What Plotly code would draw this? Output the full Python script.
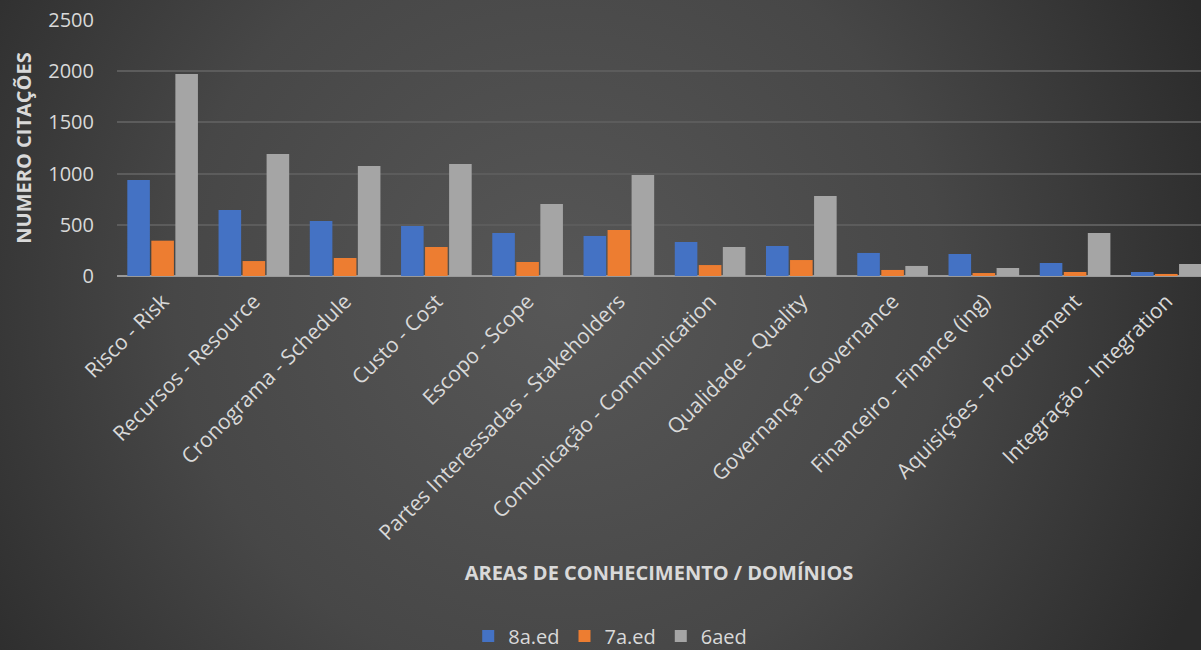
import base64
import plotly.graph_objects as go

categories = [
    "Risco - Risk", "Recursos - Resource", "Cronograma - Schedule", "Custo - Cost",
    "Escopo - Scope", "Partes Interessadas - Stakeholders", "Comunicação - Communication",
    "Qualidade - Quality", "Governança - Governance", "Financeiro - Finance (ing)",
    "Aquisições - Procurement", "Integração - Integration",
]
ed8 = [937, 645, 537, 488, 420, 391, 332, 293, 225, 215, 127, 39]
ed7 = [345, 146, 176, 283, 137, 449, 107, 156, 59, 29, 39, 20]
ed6 = [1973, 1191, 1074, 1094, 703, 986, 283, 781, 98, 78, 420, 117]

series_names = ["8a.ed", "7a.ed", "6aed"]
series_colors = ["#4472C4", "#ED7D31", "#A5A5A5"]

svg = """<svg xmlns='http://www.w3.org/2000/svg' width='1201' height='660' viewBox='0 0 1201 660' preserveAspectRatio='none'>
<defs><radialGradient id='g' cx='560' cy='300' r='700' gradientUnits='userSpaceOnUse'>
<stop offset='0' stop-color='#575757'/><stop offset='0.55' stop-color='#474747'/><stop offset='1' stop-color='#2b2b2b'/>
</radialGradient></defs><rect width='1201' height='660' fill='url(#g)'/></svg>"""
bg_uri = "data:image/svg+xml;base64," + base64.b64encode(svg.encode()).decode()

fig = go.Figure()
for name, vals, col in zip(series_names, [ed8, ed7, ed6], series_colors):
    fig.add_trace(go.Bar(x=categories, y=vals, name=name, marker=dict(color=col, line=dict(width=0))))

FONT = "Open Sans"
TXT = "#d9d9d9"
fig.update_layout(
    width=1201, height=650,
    margin=dict(l=117, r=0, t=20, b=374, autoexpand=False),
    paper_bgcolor="#363636", plot_bgcolor="rgba(0,0,0,0)",
    barmode="group", bargap=0.21, bargroupgap=0.06,
    font=dict(family=FONT, color=TXT),
    images=[dict(source=bg_uri, xref="paper", yref="paper", x=-117/1084, y=1 + 20/256,
                 sizex=1201/1084, sizey=660/256, xanchor="left", yanchor="top",
                 sizing="stretch", layer="below")],
    xaxis=dict(range=[-0.5, 11.38], tickangle=-45, tickfont=dict(size=21, color=TXT),
               showgrid=False, showline=False, ticks="", automargin=False, ticklabelstandoff=8,
               title=dict(text="<b>AREAS DE CONHECIMENTO / DOMÍNIOS</b>", font=dict(size=20, color=TXT),
                          standoff=21)),
    yaxis=dict(range=[0, 2500], dtick=500, tickfont=dict(size=20, color=TXT),
               showgrid=True, gridcolor="#5c5c5c", gridwidth=1.5,
               zeroline=True, zerolinecolor="#9a9a9a", zerolinewidth=2,
               ticks="", automargin=False, ticklabelstandoff=22,
               title=dict(text="<b>NUMERO CITAÇÕES</b>", font=dict(size=20, color=TXT), standoff=11)),
    legend=dict(orientation="h", x=0.455, xanchor="center", yref="container", y=14/650, yanchor="middle",
                font=dict(size=20, color=TXT), bgcolor="rgba(0,0,0,0)", itemwidth=30, traceorder="normal"),
)
fig.write_html("out.html")
